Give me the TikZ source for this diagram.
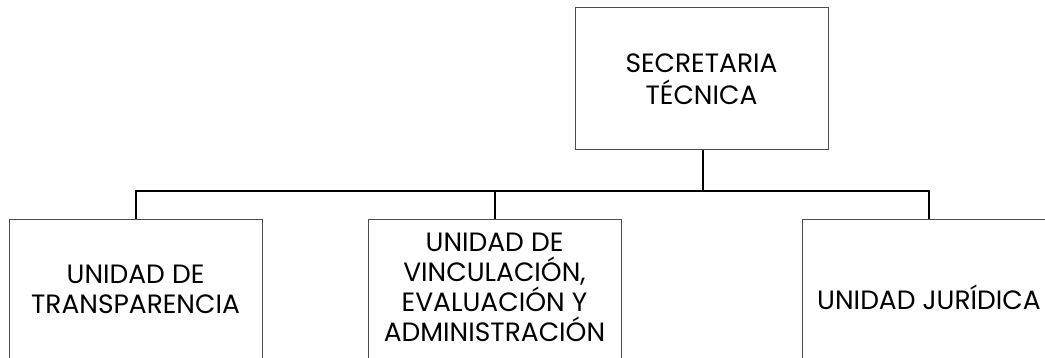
\documentclass[tikz,border=0pt]{standalone}
\usepackage{fontspec}
\setmainfont{Poppins}
\begin{document}
\begin{tikzpicture}[x=1pt,y=-1pt,
  box/.style={draw=black!70,line width=1pt,rectangle,minimum width=253pt,inner sep=0pt},
  txt/.style={align=center,font=\fontsize{26.5}{30}\selectfont,inner sep=0pt},
  link/.style={draw=black,line width=2pt,line join=miter}]
\useasboundingbox (0,0) rectangle (1045,358);
\clip (0,0) rectangle (1045,358);
\node[box,minimum height=142pt,align=center,font=\fontsize{26.5}{32}\selectfont] (top) at (701.5,79) {SECRETARIA\\TÉCNICA};
\node[box,minimum height=160pt,anchor=north] (left) at (135.5,219) {};
\node[box,minimum height=160pt,anchor=north] (mid) at (494.5,219) {};
\node[box,minimum height=160pt,anchor=north] (right) at (928.5,219) {};
\node[txt] (lt) at (135.5,289) {UNIDAD DE\\TRANSPARENCIA};
\node[txt] (mt) at (494.5,287) {UNIDAD DE\\VINCULACIÓN,\\EVALUACIÓN Y\\ADMINISTRACIÓN};
\node[txt] (rt) at (929,297) {UNIDAD JURÍDICA};
\coordinate (bus) at (703,191.5);
\draw[link] (top.south -| bus) -- (bus);
\draw[link] (bus) -| (left.north);
\draw[link] (bus) -| (mid.north);
\draw[link] (bus) -| (right.north);
\end{tikzpicture}
\end{document}
